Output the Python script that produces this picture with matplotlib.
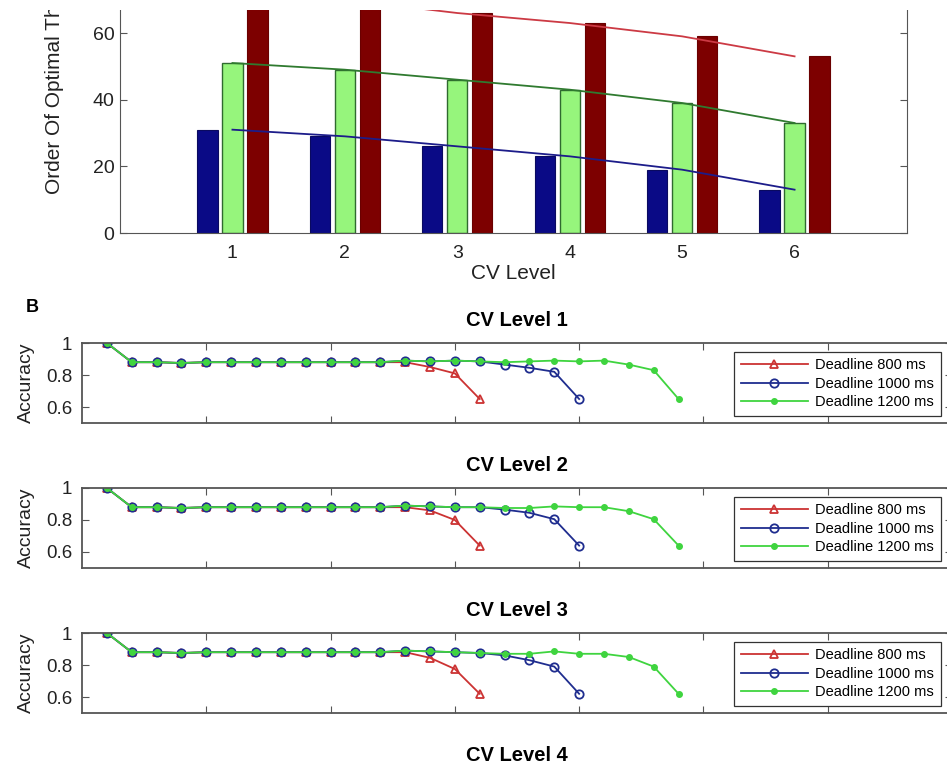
import matplotlib
matplotlib.use("Agg")
import matplotlib.pyplot as plt
from matplotlib.patches import Rectangle
from matplotlib.ticker import FormatStrFormatter

plt.rcParams["font.family"] = ["Liberation Sans", "DejaVu Sans"]

# ---- data: panel A (bars + trend lines) ----
cv_levels = [1, 2, 3, 4, 5, 6]
order_blue = [31, 29, 26, 23, 19, 13]
order_green = [51, 49, 46, 43, 39, 33]
order_red = [72, 70, 66, 63, 59, 53]

# ---- data: panel B (accuracy per deadline, per CV level) ----
deadline_labels = ["Deadline 800 ms", "Deadline 1000 ms", "Deadline 1200 ms"]
cv_titles = ["CV Level 1", "CV Level 2", "CV Level 3", "CV Level 4"]

acc800_cv1 = [1.0, 0.88, 0.88, 0.875, 0.88, 0.88, 0.88, 0.88, 0.88, 0.88, 0.88, 0.88, 0.88, 0.85, 0.81, 0.65]
acc1000_cv1 = [1.0, 0.88, 0.88, 0.875, 0.88, 0.88, 0.88, 0.88, 0.88, 0.88, 0.88, 0.88, 0.89, 0.885, 0.89, 0.885,
               0.865, 0.845, 0.82, 0.65]
acc1200_cv1 = [1.0, 0.88, 0.88, 0.875, 0.88, 0.88, 0.88, 0.88, 0.88, 0.88, 0.88, 0.88, 0.89, 0.885, 0.89, 0.885,
               0.88, 0.885, 0.89, 0.885, 0.89, 0.865, 0.83, 0.65]

acc800_cv2 = [1.0, 0.88, 0.88, 0.875, 0.88, 0.88, 0.88, 0.88, 0.88, 0.88, 0.88, 0.88, 0.88, 0.86, 0.80, 0.64]
acc1000_cv2 = [1.0, 0.88, 0.88, 0.875, 0.88, 0.88, 0.88, 0.88, 0.88, 0.88, 0.88, 0.88, 0.89, 0.885, 0.88, 0.88,
               0.865, 0.845, 0.805, 0.64]
acc1200_cv2 = [1.0, 0.88, 0.88, 0.875, 0.88, 0.88, 0.88, 0.88, 0.88, 0.88, 0.88, 0.88, 0.89, 0.885, 0.88, 0.88,
               0.875, 0.875, 0.885, 0.88, 0.88, 0.855, 0.805, 0.64]

acc800_cv3 = [1.0, 0.88, 0.88, 0.875, 0.88, 0.88, 0.88, 0.88, 0.88, 0.88, 0.88, 0.88, 0.88, 0.845, 0.775, 0.62]
acc1000_cv3 = [1.0, 0.88, 0.88, 0.875, 0.88, 0.88, 0.88, 0.88, 0.88, 0.88, 0.88, 0.88, 0.89, 0.885, 0.88, 0.875,
               0.86, 0.83, 0.79, 0.62]
acc1200_cv3 = [1.0, 0.88, 0.88, 0.875, 0.88, 0.88, 0.88, 0.88, 0.88, 0.88, 0.88, 0.88, 0.89, 0.885, 0.88, 0.875,
               0.87, 0.87, 0.885, 0.87, 0.87, 0.85, 0.79, 0.62]

panel_data = [
    (acc800_cv1, acc1000_cv1, acc1200_cv1),
    (acc800_cv2, acc1000_cv2, acc1200_cv2),
    (acc800_cv3, acc1000_cv3, acc1200_cv3),
]

W, H = 947, 770
fig = plt.figure(figsize=(W / 100, H / 100), dpi=100)


def px_box(left, top, right, bottom):
    return [left / W, 1 - bottom / H, (right - left) / W, (bottom - top) / H]


SPINE = "#555555"

# ---- panel A ----
axA = fig.add_axes(px_box(120, 233 - 80 * 3.333, 907, 233))
bw = 0.18
off = 0.222
axA.bar([c - off for c in cv_levels], order_blue, width=bw, color="#0a0a86", edgecolor="#0a0a60", lw=0.8)
axA.bar(cv_levels, order_green, width=bw, color="#96f57c", edgecolor="#2f6a2f", lw=1.0)
axA.bar([c + off for c in cv_levels], order_red, width=bw, color="#7d0000", edgecolor="#6a0000", lw=0.8)
axA.plot(cv_levels, order_blue, color="#1c1c8a", lw=1.3)
axA.plot(cv_levels, order_green, color="#2f7a2f", lw=1.3)
axA.plot(cv_levels, order_red, color="#cc3a44", lw=1.3)
axA.set_xlim(0, 7)
axA.set_ylim(0, 80)
axA.set_xticks(cv_levels)
axA.set_yticks([0, 20, 40, 60])
axA.tick_params(axis="x", length=0, pad=9, labelsize=14, colors="#222222")
axA.tick_params(axis="y", direction="in", length=5, right=True, pad=4, labelsize=14,
                colors="#222222", color=SPINE)
axA.set_xlabel("CV Level", fontsize=15, labelpad=1, color="#222222")
for s in axA.spines.values():
    s.set_color(SPINE)
axA.spines["top"].set_visible(False)
fig.text(54 / W, 1 - 194 / H, "Order Of Optimal Threshold", rotation=90, ha="center", va="bottom",
         fontsize=15, color="#222222")

# ---- panel B ----
fig.text(32 / W, 1 - 307 / H, "B", fontsize=13, fontweight="bold", ha="center", va="center")

colors = ["#cc3333", "#1f2d8f", "#3fd43f"]
markers = ["^", "o", "."]
tops = [343, 488, 633, 778]
for i, top in enumerate(tops):
    ax = fig.add_axes(px_box(82, top, 952, top + 80))
    ax.set_title(cv_titles[i], fontsize=14.5, fontweight="bold", pad=12)
    ax.set_xlim(0, 35)
    ax.set_ylim(0.5, 1.0)
    ax.set_xticks([5, 10, 15, 20, 25, 30])
    ax.set_xticklabels([])
    ax.set_yticks([0.6, 0.8, 1.0])
    ax.yaxis.set_major_formatter(FormatStrFormatter("%g"))
    ax.tick_params(direction="in", length=5, top=True, right=True, labelsize=13.5,
                   pad=7, colors="#222222", color=SPINE)
    for s in ax.spines.values():
        s.set_color(SPINE)
        s.set_linewidth(1.3)
    if i >= len(panel_data):
        # only the title of this panel is inside the cropped figure
        ax.set_yticklabels([])
        continue
    ax.set_ylabel("Accuracy", fontsize=14, labelpad=8, color="#222222")
    for series, lab, col, mk in zip(panel_data[i], deadline_labels, colors, markers):
        xs = list(range(1, len(series) + 1))
        if mk == ".":
            ax.plot(xs, series, color=col, lw=1.3, marker=mk, ms=8, label=lab)
        else:
            ax.plot(xs, series, color=col, lw=1.3, marker=mk, ms=6, mfc="none",
                    mew=1.3, label=lab)
    leg = ax.legend(loc="upper right", bbox_to_anchor=(0.987, 0.89), borderaxespad=0,
                    fontsize=10.5, handlelength=4.6, handletextpad=0.5, labelspacing=0.3,
                    fancybox=False, framealpha=1, borderpad=0.45)
    leg.get_frame().set_edgecolor("#333333")
    leg.get_frame().set_linewidth(0.9)

# cropped top edge of the original figure
fig.add_artist(Rectangle((0, 1 - 10 / H), 1, 10 / H, transform=fig.transFigure,
                         facecolor="white", edgecolor="none", zorder=20))

fig.savefig("out.png", dpi=100)
